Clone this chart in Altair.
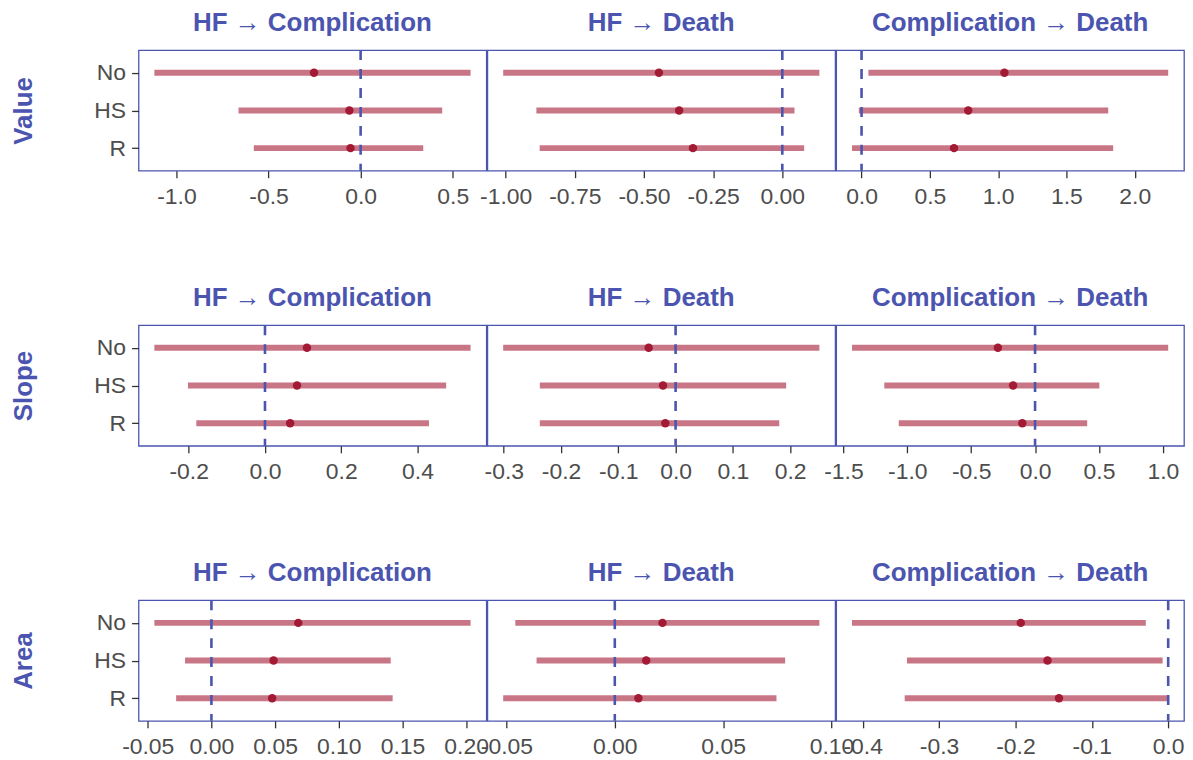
import altair as alt
import pandas as pd

FONT = "Liberation Sans"
BLUE = "#4B55B0"
BAR = "#A31A35"
POINT = "#A31A35"

groups = ["No", "HS", "R"]
measures = ["Value", "Slope", "Area"]
transitions = ["HF → Complication", "HF → Death", "Complication → Death"]

# ordered transition by transition, each with (No, HS, R)
value_est = [-0.253, -0.061, -0.055, -0.446, -0.373, -0.323, 1.046, 0.781, 0.677]
value_lo = [-1.120, -0.663, -0.580, -1.009, -0.889, -0.877, 0.050, -0.020, -0.070]
value_hi = [0.597, 0.443, 0.340, 0.134, 0.044, 0.079, 2.245, 1.806, 1.842]

slope_est = [0.110, 0.084, 0.066, -0.047, -0.022, -0.018, -0.291, -0.172, -0.100]
slope_lo = [-0.290, -0.202, -0.180, -0.301, -0.237, -0.237, -1.433, -1.180, -1.067]
slope_hi = [0.539, 0.475, 0.430, 0.251, 0.193, 0.181, 1.042, 0.503, 0.408]

area_est = [0.0682, 0.0488, 0.0477, 0.0220, 0.0145, 0.0109, -0.193, -0.158, -0.143]
area_lo = [-0.0448, -0.0207, -0.0277, -0.0459, -0.0361, -0.0515, -0.414, -0.342, -0.345]
area_hi = [0.2035, 0.1408, 0.1423, 0.0944, 0.0786, 0.0746, -0.0293, -0.0073, -0.0008]

value_ticks = [[-1.0, -0.5, 0.0, 0.5], [-1.0, -0.75, -0.5, -0.25, 0.0], [0.0, 0.5, 1.0, 1.5, 2.0]]
slope_ticks = [[-0.2, 0.0, 0.2, 0.4], [-0.3, -0.2, -0.1, 0.0, 0.1, 0.2], [-1.5, -1.0, -0.5, 0.0, 0.5, 1.0]]
area_ticks = [[-0.05, 0.0, 0.05, 0.10, 0.15, 0.20], [-0.05, 0.0, 0.05, 0.10], [-0.4, -0.3, -0.2, -0.1, 0.0]]
value_formats = [".1f", ".2f", ".1f"]
slope_formats = [".1f", ".1f", ".1f"]
area_formats = [".2f", ".2f", ".1f"]

row_data = {
    "Value": (value_est, value_lo, value_hi, value_ticks, value_formats),
    "Slope": (slope_est, slope_lo, slope_hi, slope_ticks, slope_formats),
    "Area": (area_est, area_lo, area_hi, area_ticks, area_formats),
}

PW, PH = 349, 121


def panel(measure, j):
    est, lo, hi, ticks, fmts = row_data[measure]
    df = pd.DataFrame({
        "group": groups,
        "est": est[3 * j:3 * j + 3],
        "lo": lo[3 * j:3 * j + 3],
        "hi": hi[3 * j:3 * j + 3],
    })
    mn = min(df["lo"].min(), 0.0)
    mx = max(df["hi"].max(), 0.0)
    pad = 0.05 * (mx - mn)
    xscale = alt.Scale(domain=[mn - pad, mx + pad], nice=False, zero=False)
    fmt = fmts[j]
    xaxis = alt.Axis(
        values=ticks[j],
        labelExpr=f"replace(format(datum.value, '{fmt}'), '\u2212', '-')",
        title=None, grid=False, domain=False,
        tickSize=7, tickColor="#333333", tickWidth=1.3,
        labelColor="#4D4D4D", labelFontSize=23, labelFont=FONT,
        labelPadding=8, labelFlush=False, labelOverlap=False,
    )
    if j == 0:
        yaxis = alt.Axis(
            title=measure, titleFont=FONT, titleFontSize=26, titleFontWeight="bold",
            titleColor=BLUE, titlePadding=57,
            grid=False, domain=False,
            tickSize=7, tickColor="#333333", tickWidth=1.3,
            labelColor="#4D4D4D", labelFontSize=23, labelFont=FONT, labelPadding=6,
        )
    else:
        yaxis = None
    yenc = alt.Y("group:N", sort=groups, scale=alt.Scale(type="point", padding=0.6), axis=yaxis)

    base = alt.Chart(df)
    ci = base.mark_rule(strokeWidth=6, color=BAR, opacity=0.6).encode(
        x=alt.X("lo:Q", scale=xscale, axis=xaxis), x2="hi:Q", y=yenc
    )
    zero = alt.Chart(pd.DataFrame({"z": [0.0]})).mark_rule(
        color=BLUE, strokeDash=[10, 9], strokeWidth=2.6
    ).encode(x=alt.X("z:Q", scale=xscale, axis=xaxis))
    pt = base.mark_point(filled=True, size=72, color=POINT, opacity=1).encode(
        x=alt.X("est:Q", scale=xscale, axis=xaxis), y=yenc
    )
    return alt.layer(ci, zero, pt).properties(
        width=PW, height=PH,
        title=alt.TitleParams(
            transitions[j], font=FONT, fontSize=26, fontWeight="bold", color=BLUE,
            anchor="middle", baseline="bottom", offset=-13,
        ),
    )


rows = [alt.hconcat(*[panel(m, j) for j in range(3)], spacing=1, bounds="flush") for m in measures]

chart = alt.vconcat(*rows, spacing=276, bounds="flush").properties(
    padding={"left": 2, "top": 0, "right": 0, "bottom": 0},
    background="white",
).configure_view(stroke=BLUE, strokeWidth=1.3)

chart.save("out.html", embed_options={"renderer": "svg", "actions": False})
